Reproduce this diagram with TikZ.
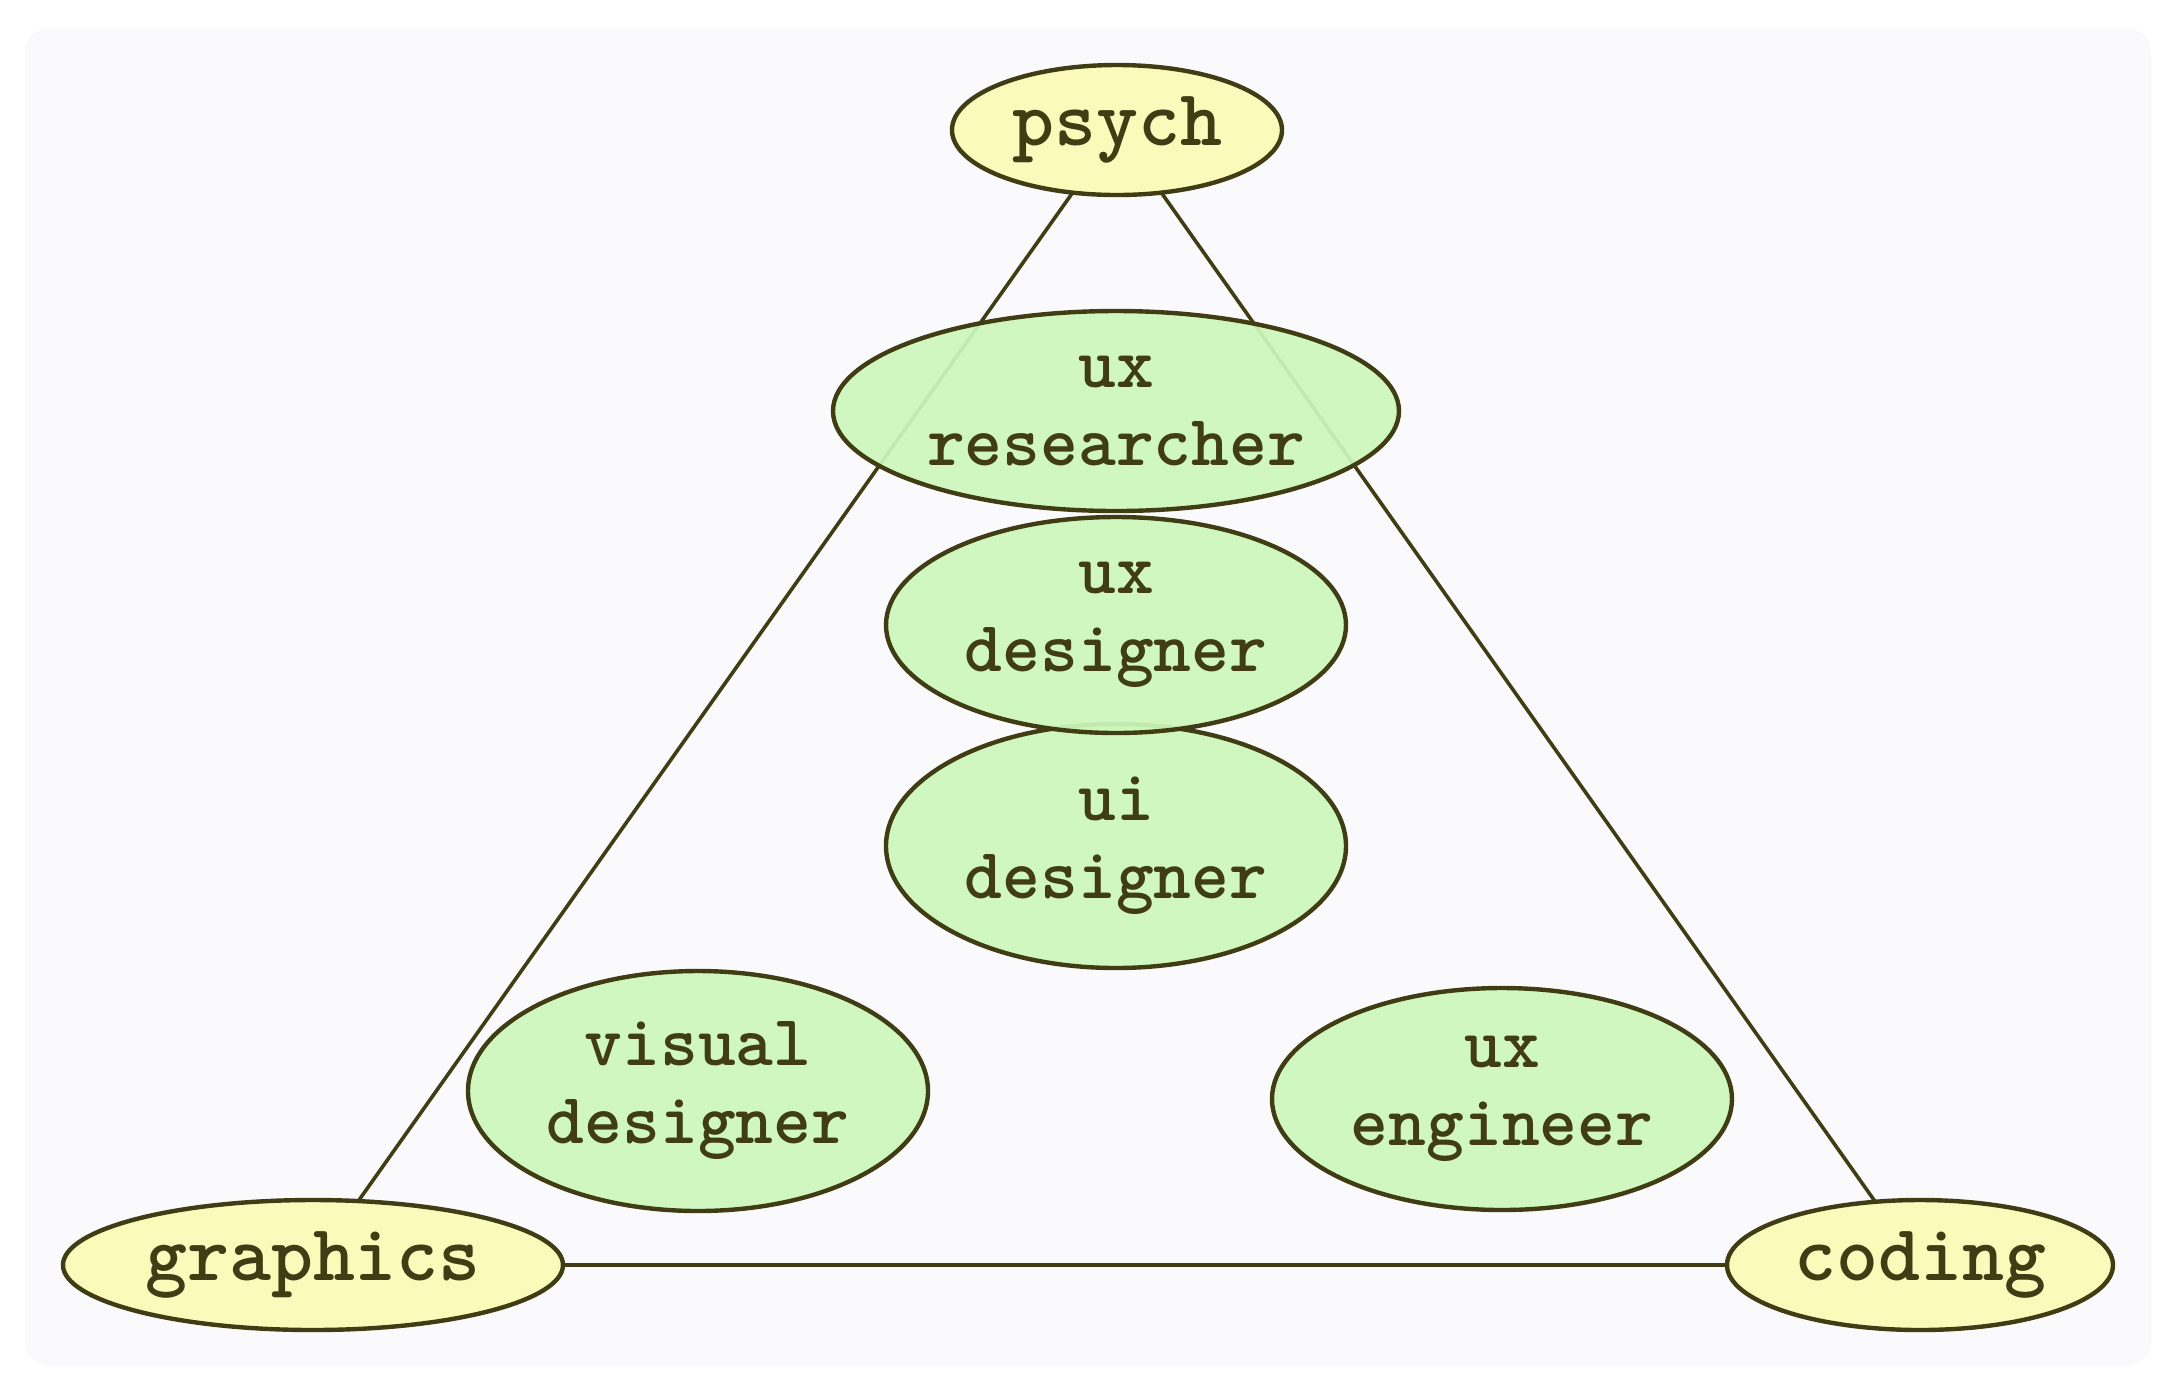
\documentclass[tikz,border=0pt]{standalone}
\usepackage{xcolor}
\usepackage{tikz}
\usetikzlibrary{shapes.geometric}
\definecolor{inkline}{HTML}{403D14}
\definecolor{skillfill}{HTML}{FAFABB}
\definecolor{rolefill}{HTML}{CCF7BB}
\definecolor{panelfill}{HTML}{FAFAFD}

\begin{document}
\begin{tikzpicture}[
    x=0.25pt, y=-0.25pt,
    every node/.style={text=inkline},
    blob/.style={ellipse, draw=inkline, line width=1.1pt, inner sep=0pt, outer sep=0pt, align=center},
    skill/.style={blob, fill=skillfill, minimum height=32.5pt, font=\ttfamily\bfseries\fontsize{20}{22}\selectfont},
    role/.style={blob, fill=rolefill, fill opacity=0.93, text opacity=1, minimum width=115pt, font=\ttfamily\bfseries\fontsize{18}{19.5}\selectfont},
    link/.style={draw=inkline, line width=0.9pt},
]
    \useasboundingbox (0,0) rectangle (2166,1374);

    % Panel
    \fill[panelfill, rounded corners=6pt] (25,28) rectangle (2151,1366);

    % Corners: the three skills
    \node[skill, minimum width=82.5pt] (psych) at (1117,130) {psych};
    \node[skill, minimum width=125pt] (graphics) at (313,1265) {graphics};
    \node[skill, minimum width=96.5pt] (coding) at (1920,1265) {coding};

    % Edges of the triangle
    \draw[link] (psych) -- (graphics);
    \draw[link] (psych) -- (coding);
    \draw[link] (graphics) -- (coding);

    % Roles inside
    \node[role, minimum width=141.5pt, minimum height=50pt] (uxres) at (1116,411) {ux\\researcher};
    \node[role, minimum height=61pt] (uides) at (1116,846) {ui\\designer};
    \node[role, minimum height=54pt] (uxdes) at (1116,625) {ux\\designer};
    \node[role, minimum height=60pt] (visdes) at (698,1091) {visual\\designer};
    \node[role, minimum height=55.5pt] (uxeng) at (1502,1099) {ux\\engineer};
\end{tikzpicture}
\end{document}
